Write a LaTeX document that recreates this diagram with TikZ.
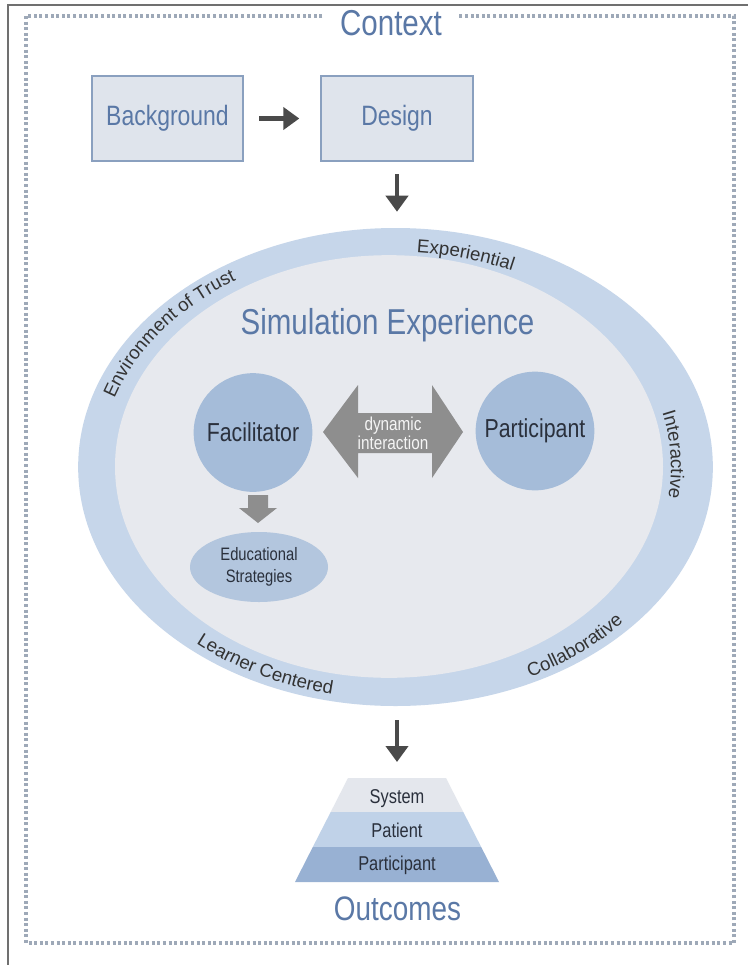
\documentclass[tikz,border=0pt]{standalone}
\usepackage{fontspec}
\setmainfont{Liberation Sans}
\newfontfamily\condfont[FakeStretch=0.82]{Liberation Sans}
\usetikzlibrary{shapes.geometric,arrows.meta,decorations.text,calc}

\definecolor{titleblue}{HTML}{5A78A6}
\definecolor{boxfill}{HTML}{DFE4EC}
\definecolor{boxline}{HTML}{8AA0BF}
\definecolor{bandc}{HTML}{C6D6EA}
\definecolor{innerc}{HTML}{E7E9EE}
\definecolor{circc}{HTML}{A5BCD9}
\definecolor{edc}{HTML}{B3C6DE}
\definecolor{blockgray}{HTML}{8E8E8E}
\definecolor{darkarrow}{HTML}{4A4A4A}
\definecolor{dotc}{HTML}{9EA9B8}
\definecolor{framec}{HTML}{707070}
\definecolor{labelc}{HTML}{333333}
\definecolor{textdark}{HTML}{2A303C}
\definecolor{pyrA}{HTML}{E4E7ED}
\definecolor{pyrB}{HTML}{C0D2E8}
\definecolor{pyrC}{HTML}{98B1D3}

\newcommand{\ringfont}{\fontsize{14pt}{16pt}\selectfont}

\begin{document}
\begin{tikzpicture}[x=0.75pt,y=0.75pt,
  boxnode/.style={draw=boxline, line width=1.5pt, fill=boxfill,
    minimum width=113.5pt, minimum height=64pt, inner sep=0pt,
    font=\condfont\fontsize{21pt}{24pt}\selectfont, text=titleblue},
  titlef/.style={font=\condfont\fontsize{27pt}{30pt}\selectfont, text=titleblue, inner sep=0pt},
  circnode/.style={circle, fill=circc, minimum size=89pt, inner sep=0pt,
    font=\condfont\fontsize{19.5pt}{22pt}\selectfont, text=textdark},
  pyrtext/.style={font=\condfont\fontsize{15pt}{17pt}\selectfont, text=textdark, inner sep=0pt},
  darkarr/.style={draw=darkarrow, line width=3.4pt,
    -{Triangle[length=12pt, width=16.5pt]}},
  ringtext/.style={decorate, decoration={text along path,
    text={|\ringfont|#1}, text align=center, text color=labelc}}
]
\useasboundingbox (0,0) rectangle (748,-965);
\fill[white] (0,0) rectangle (748,-965);

% screenshot frame and dotted context frame
\draw[framec, line width=1.1pt] (8,-965) -- (8,-5) -- (748,-5);
\draw[dotc, line width=2.4pt, dash pattern=on 2.2pt off 2pt] (26,-16) rectangle (734,-943);
\node[titlef, fill=white, inner xsep=12pt, inner ysep=2pt, anchor=base] (ctx) at (391,-35) {Context};

% boxes
\node[boxnode] (bg) at (167.5,-118.5) {Background};
\node[boxnode] (des) at (397,-118.5) {Design};

% ellipse
\node[ellipse, fill=bandc, minimum width=476pt, minimum height=358.5pt, inner sep=0pt] (outer) at (395.5,-467) {};
\node[ellipse, fill=innerc, minimum width=411pt, minimum height=317pt, inner sep=0pt] (inner) at (389,-466.5) {};
\coordinate (c) at (393,-467);

\draw[darkarr, shorten <=11.25pt, shorten >=15.75pt] (bg.east) -- (des.west);
\draw[darkarr, shorten <=9pt, shorten >=12pt] (des.south) -- (des.south |- outer.north);

% ring labels
\path[ringtext={Experiential}] ($(c)+(100:290 and 215)$) arc[start angle=100, end angle=50, x radius=290, y radius=215];
\path[ringtext={Environment of Trust}] ($(c)+(171:293 and 221)$) arc[start angle=171, end angle=115, x radius=293, y radius=221];
\path[ringtext={Interactive}] ($(c)+(28:278 and 219)$) arc[start angle=28, end angle=-22, x radius=278, y radius=219];
\path[ringtext={Collaborative}] ($(c)+(-80:307 and 235)$) arc[start angle=-80, end angle=-22, x radius=307, y radius=235];
\path[ringtext={Learner Centered}] ($(c)+(214:303 and 232)$) arc[start angle=214, end angle=272, x radius=303, y radius=232];

\node[titlef, anchor=base] (simexp) at (387.5,-334) {Simulation Experience};

% facilitator / participant
\node[circnode] (fac) at (253,-432.5) {Facilitator};
\node[circnode] (par) at (535,-431) {Participant};

\fill[blockgray] (323,-432) -- (358,-385) -- (358,-413) -- (432,-413) -- (432,-385)
  -- (463,-432) -- (432,-478) -- (432,-453) -- (358,-453) -- (358,-478) -- cycle;
\node[align=center, font=\condfont\fontsize{14pt}{11.25pt}\selectfont, text=white!92!gray, inner sep=0pt] (dyn) at (393,-433) {dynamic\\interaction};

\fill[blockgray] (248,-495) -- (268,-495) -- (268,-508) -- (277,-508) -- (258,-523)
  -- (239,-508) -- (248,-508) -- cycle;
\node[ellipse, fill=edc, minimum width=103.5pt, minimum height=52.5pt, inner sep=0pt, align=center,
  font=\condfont\fontsize{13.5pt}{16.5pt}\selectfont, text=textdark] (edu) at (259,-567) {Educational\\Strategies};

% outcomes pyramid
\coordinate (pyrtop) at (397,-778);
\draw[darkarr, shorten <=10.5pt, shorten >=12pt] (pyrtop |- outer.south) -- (pyrtop);
\fill[pyrA] (348,-778) -- (446,-778) -- (463.3,-812) -- (330.7,-812) -- cycle;
\fill[pyrB] (330.7,-812) -- (463.3,-812) -- (481.2,-847) -- (312.8,-847) -- cycle;
\fill[pyrC] (312.8,-847) -- (481.2,-847) -- (499,-882) -- (295,-882) -- cycle;
\node[pyrtext, anchor=base] (sys) at (397,-803) {System};
\node[pyrtext, anchor=base] (pat) at (397,-837) {Patient};
\node[pyrtext, anchor=base] (ppt) at (397,-870) {Participant};
\node[titlef, font=\condfont\fontsize{25.5pt}{28pt}\selectfont, anchor=base] (outc) at (397.5,-920) {Outcomes};
\end{tikzpicture}
\end{document}
